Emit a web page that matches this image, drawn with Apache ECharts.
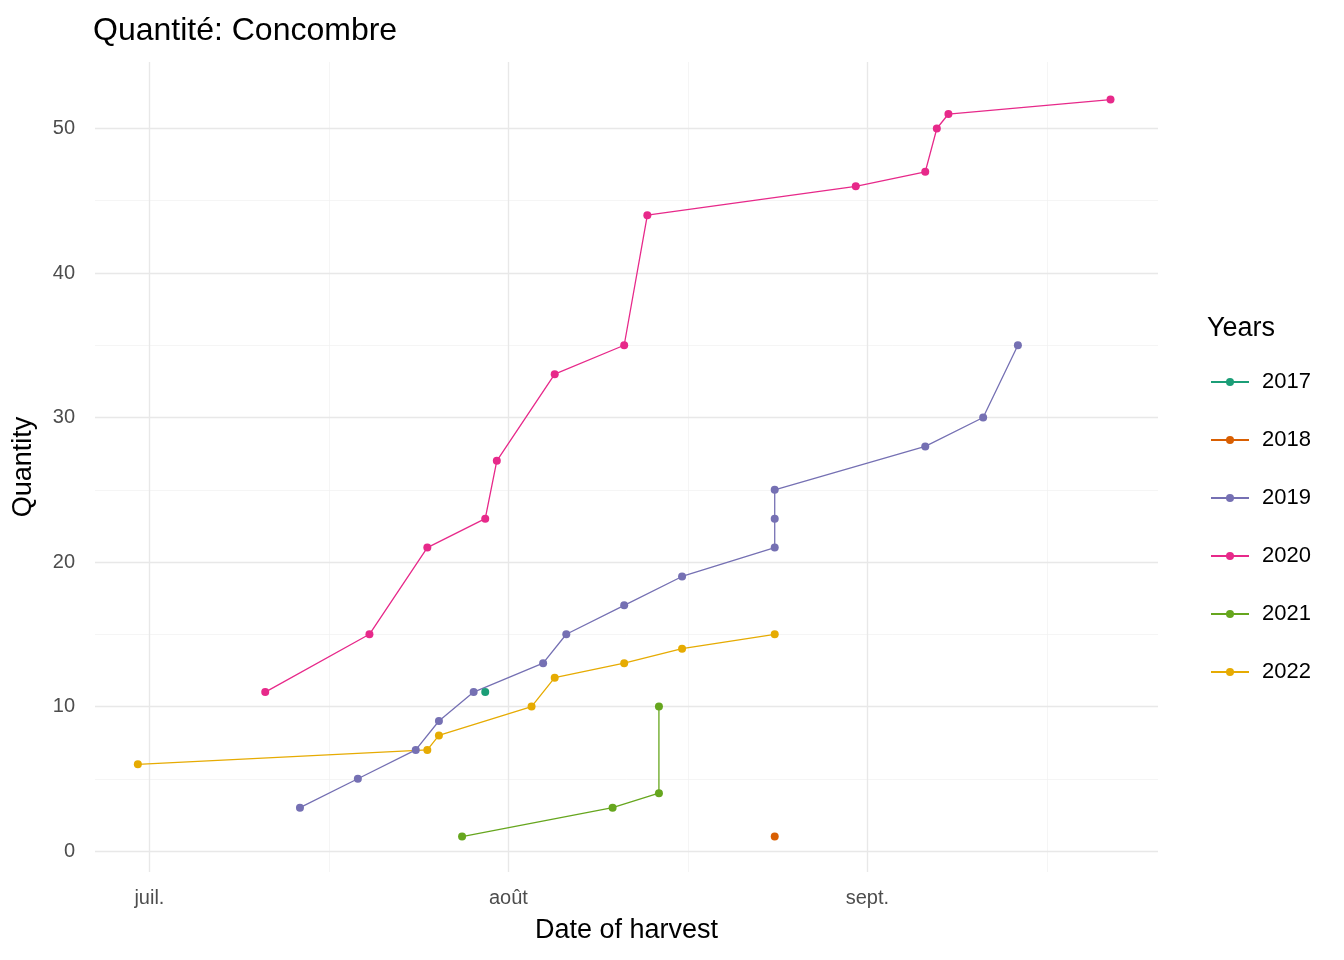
<!DOCTYPE html>
<html><head><meta charset="utf-8">
<script src="https://cdn.jsdelivr.net/npm/echarts@6/dist/echarts.min.js"></script>
<style>html,body{margin:0;padding:0;background:#fff}#c{width:1344px;height:960px}</style>
</head><body><div id="c"></div>
<script>
const years = ["2017", "2018", "2019", "2020", "2021", "2022"];
const colors = ["#1b9e77", "#d95f02", "#7570b3", "#e7298a", "#66a61e", "#e6ab02"];
const dates = {
  "2017": ["07-30"],
  "2018": ["08-24"],
  "2019": ["07-14","07-19","07-24","07-26","07-29","08-04","08-06","08-11","08-16","08-24","08-24","08-24","09-06","09-11","09-14"],
  "2020": ["07-11","07-20","07-25","07-30","07-31","08-05","08-11","08-13","08-31","09-06","09-07","09-08","09-22"],
  "2021": ["07-28","08-10","08-14","08-14"],
  "2022": ["06-30","07-25","07-26","08-03","08-05","08-11","08-16","08-24"]
};
const quantities = {
  "2017": [11],
  "2018": [1],
  "2019": [3,5,7,9,11,13,15,17,19,21,23,25,28,30,35],
  "2020": [11,15,21,23,27,33,35,44,46,47,50,51,52],
  "2021": [1,3,4,10],
  "2022": [6,7,8,10,12,13,14,15]
};
const monthTicks = [0, 31, 62];
const monthLabels = {0: "juil.", 31: "août", 62: "sept."};
const minorX = [15.5, 46.5, 77.5];
const majorY = [0, 10, 20, 30, 40, 50];
const minorY = [5, 15, 25, 35, 45];

// days since 1 July
function dayOf(s) {
  const [m, d] = s.split("-").map(Number);
  return (Date.UTC(2000, m - 1, d) - Date.UTC(2000, 6, 1)) / 86400000;
}

const lineOpt = (c, w) => ({ silent: true, symbol: "none", label: { show: false },
  lineStyle: { color: c, width: w, type: "solid" }, animation: false });

const series = [{
  type: "line", data: [], silent: true, z: 0, zlevel: 0,
  markLine: Object.assign(lineOpt("#f3f3f3", 0.8), {
    data: minorX.map(v => ({ xAxis: v })).concat(minorY.map(v => ({ yAxis: v })))
  })
}, {
  type: "line", data: [], silent: true, z: 0, zlevel: 0,
  markLine: Object.assign(lineOpt("#e8e8e8", 1.4), {
    data: monthTicks.map(v => ({ xAxis: v })).concat(majorY.map(v => ({ yAxis: v })))
  })
}].concat(years.map((y, i) => ({
  name: y, type: "line", color: colors[i], zlevel: 1,
  data: dates[y].map((d, k) => [dayOf(d), quantities[y][k]]),
  symbol: "circle", symbolSize: 8, lineStyle: { width: 1.3 }
})));

const chart = echarts.init(document.getElementById("c"));
chart.setOption({
  animation: false,
  textStyle: { fontFamily: "Arial, Liberation Sans" },
  title: [
    { text: "Quantité: Concombre", left: 88, top: 10, textStyle: { fontSize: 32, fontWeight: "normal", color: "#000" } },
    { text: "Years", left: 1202, top: 310, textStyle: { fontSize: 27, fontWeight: "normal", color: "#000" } }
  ],
  grid: { left: 95, right: 186, top: 62, bottom: 88 },
  legend: {
    data: years, orient: "vertical", left: 1205, top: 366, itemWidth: 38, itemHeight: 10, itemGap: 36,
    textStyle: { fontSize: 22, color: "#000", padding: [0, 0, 0, 8] }
  },
  xAxis: {
    type: "value", min: -4.7, max: 87.1,
    name: "Date of harvest", nameLocation: "middle", nameGap: 45,
    nameTextStyle: { fontSize: 27, color: "#000" },
    axisLine: { show: false }, axisTick: { show: false }, splitLine: { show: false },
    axisLabel: { customValues: monthTicks, formatter: v => monthLabels[v] || "", fontSize: 20, color: "#4d4d4d", margin: 16 }
  },
  yAxis: {
    type: "value", min: -1.45, max: 54.6,
    name: "Quantity", nameLocation: "middle", nameGap: 58,
    nameTextStyle: { fontSize: 27, color: "#000" },
    axisLine: { show: false }, axisTick: { show: false }, splitLine: { show: false },
    axisLabel: { customValues: majorY, fontSize: 20, color: "#4d4d4d", margin: 20 }
  },
  series: series
});
</script></body></html>
